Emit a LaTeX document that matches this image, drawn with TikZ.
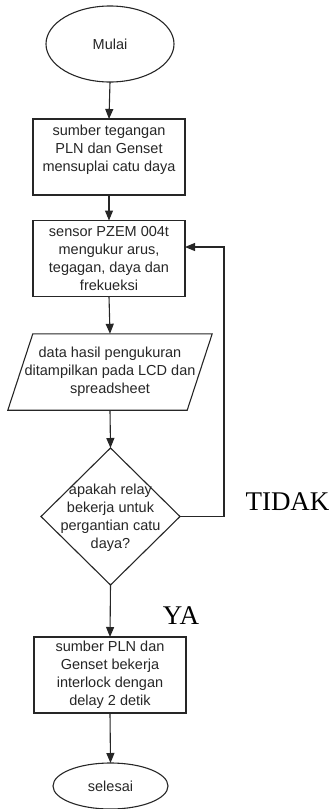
\documentclass[tikz,border=0pt]{standalone}
\usepackage{fontspec}
\setmainfont{Liberation Sans}
\newfontfamily\serifl{Liberation Serif}
\usetikzlibrary{shapes.geometric,arrows.meta}
\begin{document}
\begin{tikzpicture}[x=1pt,y=-1pt,
  every node/.style={font=\fontsize{14.5}{18}\selectfont, text=black!85},
  lin/.style={line width=1.1pt, draw=black!85},
  arr/.style={lin, -{Triangle[length=10pt,width=8pt]}},
  term/.style={ellipse, lin, inner sep=0pt, outer sep=0pt},
  procbox/.style={rectangle, lin, inner sep=0pt, outer sep=0pt, minimum width=152, minimum height=76, align=center},
  dia/.style={diamond, lin, inner sep=0pt, outer sep=0pt, minimum width=139, minimum height=137},
  txt/.style={align=center, inner sep=0pt},
  big/.style={font=\serifl\fontsize{27}{30}\selectfont, text=black, inner sep=0pt}]
\useasboundingbox (0,0) rectangle (335,809);
\node[term, minimum width=128, minimum height=76] (start) at (110,44) {Mulai};
\node[procbox] (b1) at (109,157) {sumber tegangan\\PLN dan Genset\\mensuplai catu daya\\~};
\node[procbox] (b2) at (109,258.5) {sensor PZEM 004t\\mengukur arus,\\tegagan, daya dan\\frekueksi};
\node[txt, minimum width=179, minimum height=76] (p) at (110,372) {data hasil pengukuran\\ditampilkan pada LCD dan\\spreadsheet};
\draw[lin] ([xshift=12.5]p.north west) -- ([xshift=12.5]p.north east) -- ([xshift=-12.5]p.south east) -- ([xshift=-12.5]p.south west) -- cycle;
\node[dia] (d) at (110.5,516.5) {};
\node[txt] (dt) at (110.5,517.5) {apakah relay\\bekerja untuk\\pergantian catu\\daya?};
\node[procbox] (b3) at (110,675) {sumber PLN dan\\Genset bekerja\\interlock dengan\\delay 2 detik};
\node[term, minimum width=115, minimum height=46] (end) at (110.5,786) {selesai};
\node[big] (tidak) at (287.5,502) {TIDAK};
\node[big] (ya) at (181,616) {YA};
\coordinate (c1) at (224,247);
\draw[arr] (start.south) -- (b1.north);
\draw[arr] (b1.south) -- (b2.north);
\draw[arr] (b2.south) -- (p.north);
\draw[arr] (p.south) -- (d.north);
\draw[arr] (d.south) -- (b3.north);
\draw[arr] (b3.south) -- (end.north);
\draw[arr] (d.east) -| (c1) -- (c1 -| b2.east);
\end{tikzpicture}
\end{document}
